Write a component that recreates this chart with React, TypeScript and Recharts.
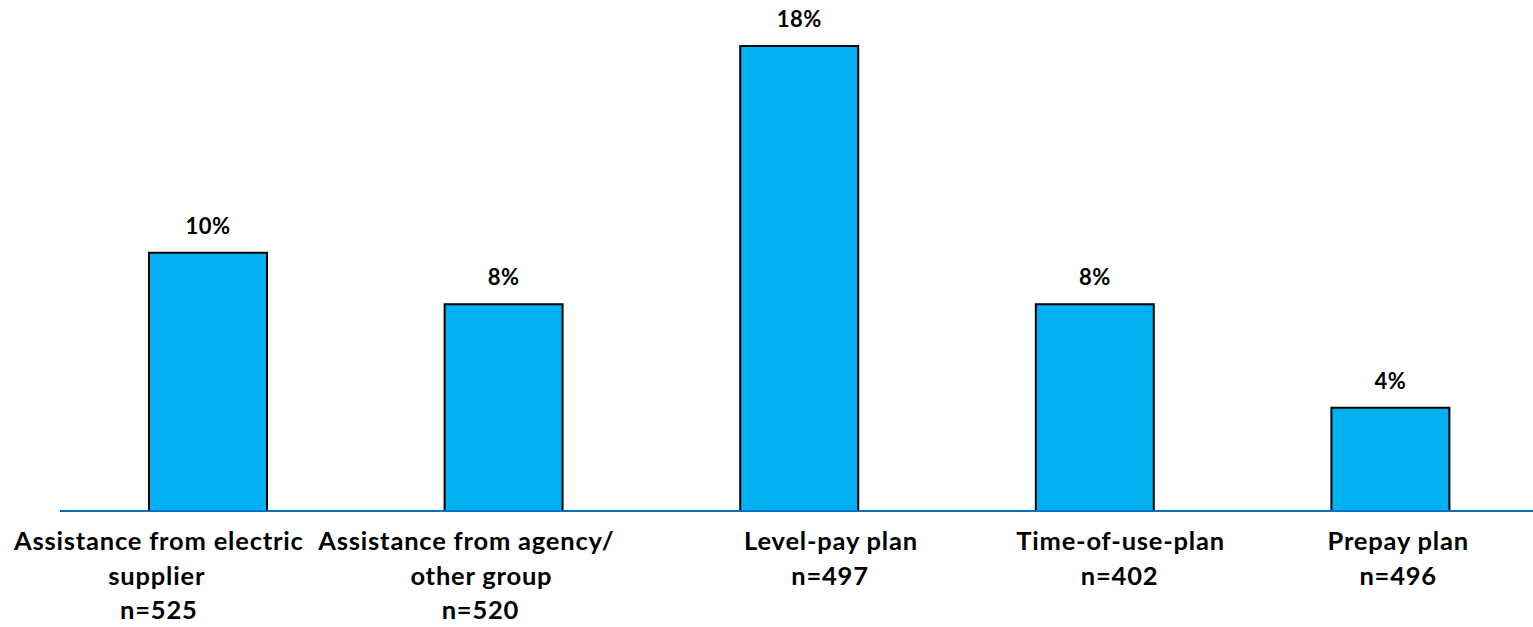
import React from 'react';
import { BarChart, Bar, XAxis, YAxis, LabelList } from 'recharts';

const categoryLines = [
  ['Assistance from electric', 'supplier'],
  ['Assistance from agency/', 'other group'],
  ['Level-pay plan'],
  ['Time-of-use-plan'],
  ['Prepay plan'],
];
const sampleSizes = [525, 520, 497, 402, 496];
const shares = [10, 8, 18, 8, 4];

// horizontal nudge (px) of each label line relative to its bar centre
const lineShifts = [
  [-49, -51, -49],
  [-37, -22, -23],
  [32, 31],
  [26, 25],
  [8, 8],
];

const data = categoryLines.map((lines, i) => ({
  name: lines.join(' '),
  share: shares[i],
}));

const FONT = 'Lato, "Open Sans", sans-serif';

// category name on one or two lines, then the sample size
const CategoryTick = (props: any) => {
  const { x, y, index } = props;
  const lines = [...categoryLines[index], `n=${sampleSizes[index]}`];
  return (
    <g>
      {lines.map((line, i) => (
        <text
          key={i}
          x={x + lineShifts[index][i]}
          y={y + 39 + i * 34.5}
          textAnchor="middle"
          fontFamily={FONT}
          fontWeight={700}
          fontSize={25.5}
          letterSpacing={0.8}
          fill="#000"
        >
          {line}
        </text>
      ))}
    </g>
  );
};

const ValueLabel = (props: any) => {
  const { x, y, width, value } = props;
  return (
    <text
      x={x + width / 2}
      y={y - 19}
      textAnchor="middle"
      fontFamily={FONT}
      fontWeight={700}
      fontSize={22}
      letterSpacing={0.5}
      fill="#000"
    >
      {`${value}%`}
    </text>
  );
};

export default function App() {
  return (
    <div style={{ position: 'absolute', left: 0, top: 0, width: 1533, height: 627, overflow: 'hidden', background: '#fff' }}>
      <BarChart
        width={1540}
        height={627}
        data={data}
        margin={{ top: 46, right: 2, bottom: 0, left: 60 }}
      >
        <YAxis hide domain={[0, 18]} />
        <XAxis
          dataKey="name"
          axisLine={{ stroke: '#0070C0', strokeWidth: 2 }}
          tickLine={false}
          tickSize={0}
          tickMargin={0}
          interval={0}
          tick={<CategoryTick />}
          height={116}
        />
        <Bar dataKey="share" fill="#00B0F0" stroke="#000" strokeWidth={2} barSize={118} isAnimationActive={false}>
          <LabelList dataKey="share" content={<ValueLabel />} />
        </Bar>
      </BarChart>
    </div>
  );
}
